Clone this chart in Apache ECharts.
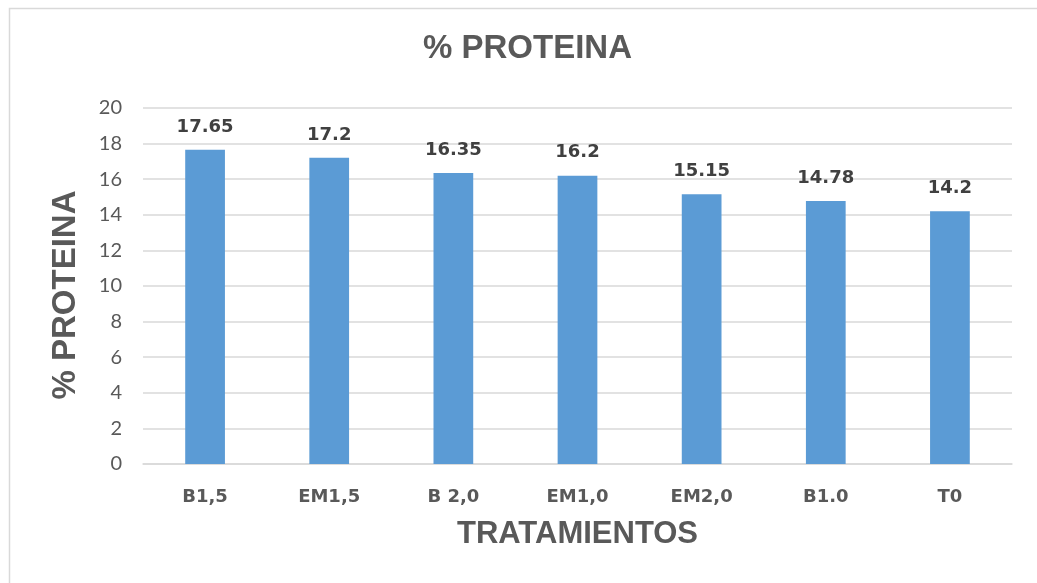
<!DOCTYPE html>
<html>
<head>
<meta charset="utf-8">
<script src="https://cdn.jsdelivr.net/npm/echarts@6/dist/echarts.min.js"></script>
<style>
  html, body { margin: 0; padding: 0; background: #ffffff; }
  #chart { width: 1037px; height: 583px; }
</style>
</head>
<body>
<div id="chart"></div>
<script>
// Protein percentage per treatment
const categories = ['B1,5', 'EM1,5', 'B 2,0', 'EM1,0', 'EM2,0', 'B1.0', 'T0'];
const proteina = [17.65, 17.2, 16.35, 16.2, 15.15, 14.78, 14.2];
const yTicks = [0, 2, 4, 6, 8, 10, 12, 14, 16, 18, 20];

const chart = echarts.init(document.getElementById('chart'));
chart.setOption({
  backgroundColor: '#ffffff',
  animation: false,
  graphic: [{
    type: 'rect',
    shape: { x: 9.5, y: 8.5, width: 1100, height: 700 },
    style: { fill: 'none', stroke: '#d9d9d9', lineWidth: 1.5 },
    silent: true
  }],
  title: {
    text: '% PROTEINA',
    left: 423,
    top: 32,
    padding: 0,
    textStyle: { fontFamily: 'Liberation Sans', fontWeight: 'bold', fontSize: 33, color: '#595959' }
  },
  grid: { left: 143, right: 25, top: 108, bottom: 119, containLabel: false },
  xAxis: {
    type: 'category',
    data: categories,
    name: 'TRATAMIENTOS',
    nameLocation: 'middle',
    nameGap: 55,
    nameTextStyle: { fontFamily: 'Liberation Sans', fontWeight: 'bold', fontSize: 31, color: '#595959' },
    axisLine: { show: true, lineStyle: { color: '#d9d9d9', width: 1.5 } },
    axisTick: { show: false },
    axisLabel: { margin: 24, fontFamily: 'DejaVu Sans', fontWeight: 'bold', fontSize: 18, color: '#595959' }
  },
  yAxis: {
    type: 'value',
    min: yTicks[0],
    max: yTicks[yTicks.length - 1],
    interval: yTicks[1] - yTicks[0],
    name: '% PROTEINA',
    nameLocation: 'middle',
    nameGap: 61,
    nameTextStyle: { fontFamily: 'Liberation Sans', fontWeight: 'bold', fontSize: 33, color: '#595959', padding: [0, 18, 0, 0] },
    axisLine: { show: false },
    axisTick: { show: false },
    axisLabel: { margin: 21, fontFamily: 'Lato', fontSize: 20, color: '#595959' },
    splitLine: { lineStyle: { color: '#d9d9d9', width: 1.5 } }
  },
  series: [{
    type: 'bar',
    data: proteina,
    barWidth: '32%',
    itemStyle: { color: '#5b9bd5' },
    label: {
      show: true,
      position: 'top',
      distance: 14,
      fontFamily: 'DejaVu Sans',
      fontWeight: 'bold',
      fontSize: 18,
      color: '#404040'
    }
  }]
});
</script>
</body>
</html>
